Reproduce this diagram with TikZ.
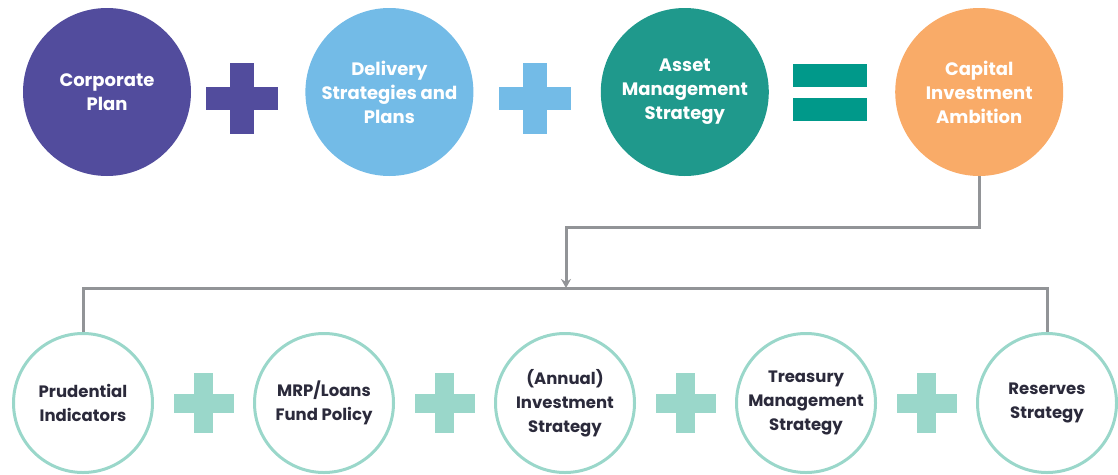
\documentclass[tikz,border=0pt]{standalone}
\usepackage{fontspec}
\setmainfont{Poppins}
\usetikzlibrary{%
	positioning,
	calc,
	arrows.meta
}
\definecolor{corpPurple}{HTML}{524C9D}
\definecolor{delivBlue}{HTML}{73BBE7}
\definecolor{assetTeal}{HTML}{1F998C}
\definecolor{eqTeal}{HTML}{00998A}
\definecolor{capOrange}{HTML}{F9AB68}
\definecolor{mintLine}{HTML}{9AD7CA}
\definecolor{linkGrey}{HTML}{929497}
\definecolor{inkDark}{HTML}{2B2A3B}

\begin{document}
\begin{tikzpicture}[
		x=1pt,y=-1pt,
		TopCircle/.style={circle,minimum size=168pt,inner sep=0pt,align=center,text=white,font=\fontsize{18}{24}\selectfont\bfseries},
		SubCircle/.style={circle,draw=mintLine,line width=3pt,minimum size=139pt,inner sep=0pt,align=center,text=inkDark,font=\fontsize{16.5}{24}\selectfont\bfseries},
		bar/.style={rectangle,inner sep=0pt,outer sep=0pt},
		connector/.style={draw=linkGrey,line width=3pt}
	]
	
	\useasboundingbox (0,0) rectangle (1118,474);
	
	%top row
	\node(corp) [TopCircle, fill=corpPurple] at (107,92) {Corporate\\Plan};
	\node(deliv) [TopCircle, fill=delivBlue, right=114pt of corp] {Delivery\\Strategies and\\Plans};
	\node(asset) [TopCircle, fill=assetTeal, right=127pt of deliv] {Asset\\Management\\Strategy};
	\node(cap) [TopCircle, fill=capOrange, right=126pt of asset] {Capital\\Investment\\Ambition};
	
	\node(plus1-h) [bar, fill=corpPurple, minimum width=72pt, minimum height=23pt] at (242,98) {};
	\node(plus1-v) [bar, fill=corpPurple, minimum width=24pt, minimum height=71pt] at (plus1-h) {};
	\node(plus2-h) [bar, fill=delivBlue, minimum width=72pt, minimum height=23pt] at (535,98) {};
	\node(plus2-v) [bar, fill=delivBlue, minimum width=24pt, minimum height=71pt] at (plus2-h) {};
	\node(eq-top) [bar, fill=eqTeal, minimum width=74pt, minimum height=23pt] at (830,75.5) {};
	\node(eq-bot) [bar, fill=eqTeal, minimum width=74pt, minimum height=23pt, below=11pt of eq-top] {};
	
	%bottom row
	\node(prud) [SubCircle] at (83,403) {Prudential\\Indicators};
	\node(mrp) [SubCircle, right=99pt of prud] {MRP/Loans\\Fund Policy};
	\node(annual) [SubCircle, right=99pt of mrp] {(Annual)\\Investment\\Strategy};
	\node(treas) [SubCircle, right=99pt of annual] {Treasury\\Management\\Strategy};
	\node(res) [SubCircle, right=99pt of treas] {Reserves\\Strategy};
	
	\foreach \a/\b [count=\i] in {prud/mrp,mrp/annual,annual/treas,treas/res}{
		\node(sub-plus\i-h) [bar, fill=mintLine, minimum width=60pt, minimum height=19pt] at ($(\a)!0.5!(\b)$) {};
		\node(sub-plus\i-v) [bar, fill=mintLine, minimum width=19pt, minimum height=60pt] at (sub-plus\i-h) {};
	}
	
	%links
	\coordinate (split) at (566,288);
	\draw[connector, -{Stealth[length=9pt,width=10pt]}] (cap.south) -- ++(0,51) -| (split);
	\draw[connector] (prud.north) |- (split) -| (res.north);
	
\end{tikzpicture}
\end{document}
